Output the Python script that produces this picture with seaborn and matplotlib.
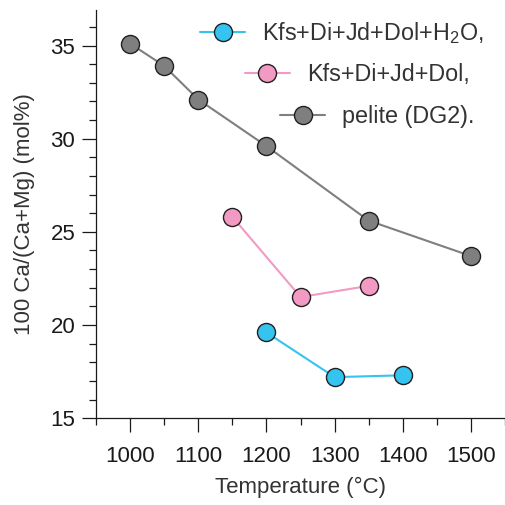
import matplotlib
matplotlib.use("Agg")
import matplotlib.pyplot as plt
import seaborn as sns
import pandas as pd
from matplotlib.ticker import MultipleLocator

# data
temp_h2o = [1200, 1300, 1400]
ca_h2o = [19.6, 17.2, 17.3]

temp_dry = [1150, 1250, 1350]
ca_dry = [25.8, 21.5, 22.1]

temp_pelite = [1000, 1050, 1100, 1200, 1350, 1500]
ca_pelite = [35.1, 33.9, 32.1, 29.6, 25.6, 23.7]

labels = ["Kfs+Di+Jd+Dol+H$_2$O,", "Kfs+Di+Jd+Dol,", "pelite (DG2)."]
colors = ["#35c3ef", "#f29ac3", "#7f7f7f"]

sns.set_style("ticks")
plt.rcParams["font.family"] = ["Liberation Sans", "DejaVu Sans"]
plt.rcParams["mathtext.fontset"] = "custom"
plt.rcParams["mathtext.rm"] = "Liberation Sans"
plt.rcParams["mathtext.it"] = "Liberation Sans"
tick_color = "#1a1a1a"
text_color = "#333333"

fig = plt.figure(figsize=(5.06, 5.05), dpi=100)
ax = fig.add_axes([0.19, 0.172, 0.808, 0.808])

series = [(temp_h2o, ca_h2o), (temp_dry, ca_dry), (temp_pelite, ca_pelite)]
handles = []
for (x, y), col, lab in zip(series, colors, labels):
    df = pd.DataFrame({"T": x, "Ca": y})
    sns.lineplot(data=df, x="T", y="Ca", ax=ax, color=col, linewidth=1.5,
                 marker="o", markersize=13, markerfacecolor=col,
                 markeredgecolor="#231f20", markeredgewidth=1.0, label=lab)
    handles.append(ax.lines[-1])

ax.get_legend().remove()

ax.set_xlim(950, 1550)
ax.set_ylim(15, 36.9)
ax.xaxis.set_major_locator(MultipleLocator(100))
ax.xaxis.set_minor_locator(MultipleLocator(50))
ax.yaxis.set_major_locator(MultipleLocator(5))
ax.yaxis.set_minor_locator(MultipleLocator(1))

for s in ["top", "right"]:
    ax.spines[s].set_visible(False)
for s in ["left", "bottom"]:
    ax.spines[s].set_linewidth(0.9)
    ax.spines[s].set_color(tick_color)

ax.tick_params(which="major", length=10, width=0.9, color=tick_color,
               labelsize=16, labelcolor=tick_color)
ax.tick_params(which="minor", length=5, width=0.9, color=tick_color)
ax.tick_params(axis="x", which="major", pad=10)
ax.tick_params(axis="y", which="major", pad=5)

ax.set_xlabel("Temperature (°C)", fontsize=16, color=text_color, labelpad=7)
ax.set_ylabel("100 Ca/(Ca+Mg) (mol%)", fontsize=16, color=text_color, labelpad=11)

# staggered legend entries, one legend each
anchors = [(0.254, 0.944), (0.364, 0.841), (0.450, 0.740)]
for i, (h, lab, pos) in enumerate(zip(handles, labels, anchors)):
    leg = ax.legend([h], [lab], loc="center left", bbox_to_anchor=pos,
                    frameon=False, fontsize=16.8, handlelength=1.93,
                    handletextpad=0.72, borderpad=0, borderaxespad=0,
                    labelcolor=text_color)
    if i < len(handles) - 1:
        ax.add_artist(leg)

fig.savefig("out.png", dpi=100)
